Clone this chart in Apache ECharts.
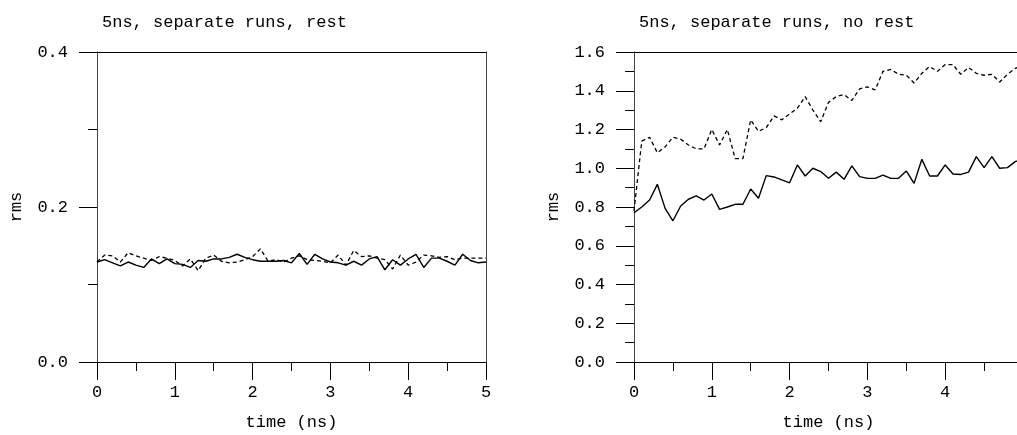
<!DOCTYPE html>
<html>
<head>
<meta charset="utf-8">
<script src="https://cdn.jsdelivr.net/npm/echarts@6/dist/echarts.min.js"></script>
<style>
html,body{margin:0;padding:0;background:#fff;}
#c{width:1017px;height:435px;}
</style>
</head>
<body>
<div id="c"></div>
<script>
var times = [0.0,0.1,0.2,0.3,0.4,0.5,0.6,0.7,0.8,0.9,1.0,1.1,1.2,1.3,1.4,1.5,1.6,1.7,1.8,1.9,2.0,2.1,2.2,2.3,2.4,2.5,2.6,2.7,2.8,2.9,3.0,3.1,3.2,3.3,3.4,3.5,3.6,3.7,3.8,3.9,4.0,4.1,4.2,4.3,4.4,4.5,4.6,4.7,4.8,4.9,5.0];

var restSolid = [0.129,0.132,0.128,0.124,0.129,0.125,0.122,0.133,0.127,0.133,0.127,0.126,0.122,0.131,0.130,0.133,0.133,0.135,0.139,0.135,0.132,0.130,0.130,0.130,0.131,0.128,0.140,0.126,0.139,0.133,0.129,0.128,0.125,0.130,0.125,0.133,0.136,0.119,0.132,0.125,0.133,0.139,0.122,0.134,0.134,0.130,0.125,0.139,0.131,0.128,0.129];
var restDashed = [0.129,0.138,0.137,0.129,0.141,0.137,0.134,0.131,0.136,0.134,0.131,0.124,0.133,0.118,0.134,0.138,0.130,0.128,0.129,0.132,0.136,0.146,0.130,0.132,0.129,0.134,0.137,0.132,0.131,0.130,0.128,0.138,0.125,0.144,0.136,0.137,0.134,0.132,0.120,0.138,0.125,0.129,0.138,0.137,0.135,0.136,0.132,0.134,0.134,0.134,0.134];

var noRestSolid = [0.77,0.80,0.836,0.917,0.793,0.729,0.805,0.84,0.857,0.836,0.867,0.788,0.80,0.814,0.814,0.893,0.845,0.962,0.955,0.94,0.925,1.017,0.96,1.0,0.983,0.948,0.98,0.943,1.012,0.957,0.948,0.948,0.965,0.948,0.948,0.986,0.922,1.046,0.96,0.96,1.017,0.97,0.968,0.98,1.06,1.003,1.06,1.0,1.003,1.034,1.05];
var noRestDashed = [0.78,1.14,1.16,1.08,1.11,1.16,1.15,1.12,1.10,1.10,1.20,1.12,1.20,1.05,1.05,1.25,1.19,1.21,1.27,1.25,1.28,1.31,1.37,1.30,1.24,1.34,1.37,1.38,1.35,1.41,1.42,1.405,1.50,1.51,1.485,1.48,1.44,1.49,1.525,1.50,1.535,1.535,1.485,1.52,1.49,1.48,1.485,1.445,1.485,1.515,1.53];

var titles = ['5ns, separate runs, rest', '5ns, separate runs, no rest'];
var xName = 'time (ns)';
var yName = 'rms';
var yMax = [0.4, 1.6];

function pairs(vals){ return vals.map(function(v,i){ return [times[i], v]; }); }

var FONT = 'Liberation Mono';
var FS = 17;
var panels = [
  {left:97, solid:restSolid, dashed:restDashed},
  {left:634, solid:noRestSolid, dashed:noRestDashed}
];

var grid=[], xAxis=[], yAxis=[], series=[], title=[];
panels.forEach(function(p, k){
  grid.push({left:p.left, top:52, width:389, height:310, outerBoundsMode:'none', containLabel:false});
  title.push({text:titles[k], left:p.left, top:9, textStyle:{fontFamily:FONT, fontSize:FS, fontWeight:'normal', color:'#000'}});
  xAxis.push({type:'value', gridIndex:k, min:0, max:5, interval:1, position:'bottom',
    name:xName, nameLocation:'middle', nameGap:52,
    nameTextStyle:{fontFamily:FONT, fontSize:FS, color:'#000'},
    axisLine:{show:true, onZero:false, lineStyle:{color:'#000', width:1}},
    axisTick:{show:true, inside:false, length:18, lineStyle:{color:'#000'}},
    minorTick:{show:true, splitNumber:2, length:9, lineStyle:{color:'#000'}},
    axisLabel:{fontFamily:FONT, fontSize:FS, color:'#000', margin:22, showMaxLabel:true},
    splitLine:{show:false}});
  xAxis.push({type:'value', gridIndex:k, min:0, max:5, position:'top',
    axisLine:{show:true, onZero:false, lineStyle:{color:'#000', width:1}},
    axisTick:{show:false}, axisLabel:{show:false}, splitLine:{show:false}});
  yAxis.push({type:'value', gridIndex:k, min:0, max:yMax[k], interval:0.2, position:'left',
    name:yName, nameLocation:'middle', nameRotate:90, nameGap:72,
    nameTextStyle:{fontFamily:FONT, fontSize:FS, color:'#000'},
    axisLine:{show:true, onZero:false, lineStyle:{color:'#444', width:1}},
    axisTick:{show:true, inside:false, length:18, lineStyle:{color:'#000'}},
    minorTick:{show:true, splitNumber:2, length:9, lineStyle:{color:'#000'}},
    axisLabel:{fontFamily:FONT, fontSize:FS, color:'#000', margin:29, formatter:function(v){return v.toFixed(1);}},
    splitLine:{show:false}});
  yAxis.push({type:'value', gridIndex:k, min:0, max:yMax[k], position:'right',
    axisLine:{show:true, onZero:false, lineStyle:{color:'#444', width:1}},
    axisTick:{show:false}, axisLabel:{show:false}, splitLine:{show:false}});
  series.push({type:'line', xAxisIndex:2*k, yAxisIndex:2*k, data:pairs(p.solid), showSymbol:false, symbol:'none',
    lineStyle:{color:'#000', width:1.4, type:'solid'}, animation:false, z:3});
  series.push({type:'line', xAxisIndex:2*k, yAxisIndex:2*k, data:pairs(p.dashed), showSymbol:false, symbol:'none',
    lineStyle:{color:'#000', width:1.3, type:[4,3]}, animation:false, z:3});
});

var chart = echarts.init(document.getElementById('c'), null, {renderer:'canvas'});
chart.setOption({backgroundColor:'#fff', animation:false, title:title, grid:grid, xAxis:xAxis, yAxis:yAxis, series:series});
</script>
</body>
</html>
